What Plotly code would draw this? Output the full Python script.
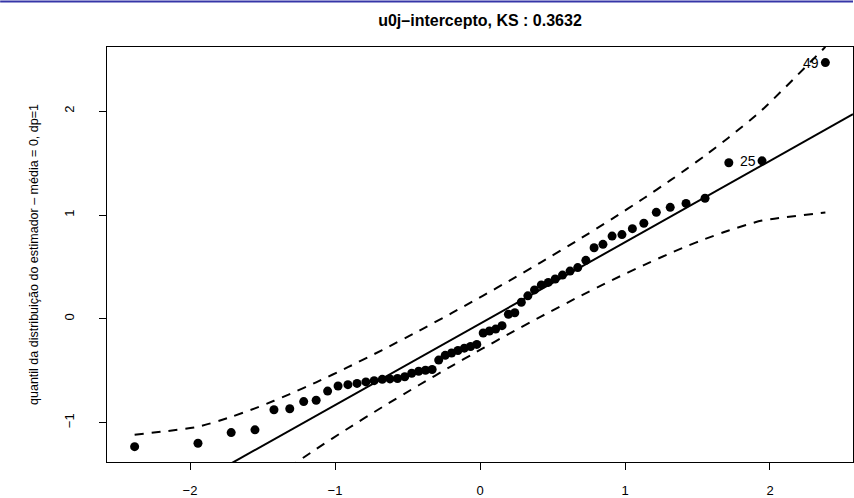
import plotly.graph_objects as go

# Theoretical normal quantiles (x) and ordered sample quantiles (y), n = 58
theoretical_q = [
    -2.382, -1.945, -1.716, -1.552, -1.421, -1.312, -1.216, -1.130, -1.051, -0.979,
    -0.911, -0.848, -0.787, -0.730, -0.674, -0.621, -0.569, -0.519, -0.471, -0.423,
    -0.376, -0.330, -0.285, -0.240, -0.196, -0.152, -0.108, -0.065, -0.022,
    0.022, 0.065, 0.108, 0.152, 0.196, 0.240, 0.285, 0.330, 0.376, 0.423,
    0.471, 0.519, 0.569, 0.621, 0.674, 0.730, 0.787, 0.848, 0.911, 0.979,
    1.051, 1.130, 1.216, 1.312, 1.421, 1.552, 1.716, 1.945, 2.382,
]
sample_q = [
    -1.230, -1.197, -1.095, -1.068, -0.875, -0.865, -0.796, -0.783, -0.695, -0.646,
    -0.633, -0.621, -0.607, -0.595, -0.582, -0.578, -0.574, -0.557, -0.523, -0.504,
    -0.495, -0.487, -0.397, -0.351, -0.328, -0.304, -0.282, -0.266, -0.246,
    -0.136, -0.117, -0.098, -0.065, 0.045, 0.059, 0.160, 0.222, 0.279, 0.327,
    0.351, 0.384, 0.422, 0.460, 0.494, 0.564, 0.685, 0.718, 0.797, 0.812,
    0.869, 0.921, 1.026, 1.074, 1.112, 1.162, 1.503, 1.522, 2.468,
]

# Reference line (intercept, slope)
line_intercept = -0.046
line_slope = 0.784

# 95% pointwise envelope
env_z = [-2.382, -1.945, -1.716, -1.552, -1.421, -1.312, -1.130, -0.911, -0.6745,
         -0.423, -0.196, -0.022, 0.022, 0.196, 0.423, 0.6745, 0.911, 1.130,
         1.312, 1.421, 1.552, 1.716, 1.945, 2.382]
env_upper = [-1.1158, -1.0387, -0.9435, -0.8611, -0.7887, -0.7241, -0.6105, -0.4653, -0.2999,
             -0.1163, 0.0550, 0.1897, 0.2241, 0.3624, 0.5469, 0.7577, 0.9631, 1.1613,
             1.3331, 1.4395, 1.5725, 1.7471, 2.0111, 2.6192]
env_lower = [-2.7112, -2.1031, -1.8391, -1.6645, -1.5315, -1.4251, -1.2533, -1.0551, -0.8497,
             -0.6389, -0.4544, -0.3161, -0.2817, -0.1470, 0.0243, 0.2079, 0.3733, 0.5185,
             0.6321, 0.6967, 0.7691, 0.8515, 0.9467, 1.0238]

# Labelled points
label_text = ["49", "25"]
label_x = [2.382, 1.945]
label_y = [2.468, 1.522]

x_range = [-2.5725, 2.5725]
y_range = [-1.378, 2.618]

FONT = "Liberation Sans, Arial, Helvetica, sans-serif"

fig = go.Figure()

fig.add_trace(go.Scatter(
    x=x_range,
    y=[line_intercept + line_slope * v for v in x_range],
    mode="lines", line=dict(color="black", width=2), hoverinfo="skip", showlegend=False,
))
for env in (env_upper, env_lower):
    fig.add_trace(go.Scatter(
        x=env_z, y=env, mode="lines",
        line=dict(color="black", width=2, dash="9px,8px", shape="spline", smoothing=0.6),
        hoverinfo="skip", showlegend=False,
    ))
fig.add_trace(go.Scatter(
    x=theoretical_q, y=sample_q, mode="markers",
    marker=dict(color="black", size=9, symbol="circle"),
    showlegend=False,
))

for t, xv, yv in zip(label_text, label_x, label_y):
    fig.add_annotation(x=xv, y=yv, text=t, showarrow=False, xanchor="right",
                       xshift=-4, font=dict(family=FONT, size=14, color="black"))

# thin blue frame line at the very top of the page
fig.add_shape(type="line", xref="paper", yref="paper",
              x0=-107 / 747, x1=1.0, y0=1 + 46 / 419, y1=1 + 46 / 419,
              line=dict(color="#3636a8", width=2))

axis_common = dict(
    showgrid=False, zeroline=False, showline=True, linecolor="black", linewidth=1,
    mirror=True, ticks="outside", ticklen=7, tickcolor="black", tickwidth=1,
    tickfont=dict(family=FONT, size=13, color="black"),
)

fig.update_layout(
    width=854, height=498,
    margin=dict(l=107, r=0, t=47, b=32),
    paper_bgcolor="white", plot_bgcolor="white",
    title=dict(text="<b>u0j\u2013intercepto, KS : 0.3632</b>", x=0.5, xref="paper",
               y=1 - 20 / 498, yanchor="middle",
               font=dict(family=FONT, size=16, color="black")),
    xaxis=dict(range=x_range, tickvals=[-2, -1, 0, 1, 2], ticktext=["\u22122", "\u22121", "0", "1", "2"],
               ticklabelstandoff=9, **axis_common),
    yaxis=dict(range=y_range, tickvals=[-1, 0, 1, 2], ticktext=["\u22121", "0", "1", "2"],
               tickangle=-90, ticklabelstandoff=20,
               title=dict(text="quantil da distribui\u00e7\u00e3o do estimador \u2013 m\u00e9dia = 0, dp=1",
                          font=dict(family=FONT, size=12.5, color="black"), standoff=20),
               **axis_common),
)

fig.write_html("out.html")
